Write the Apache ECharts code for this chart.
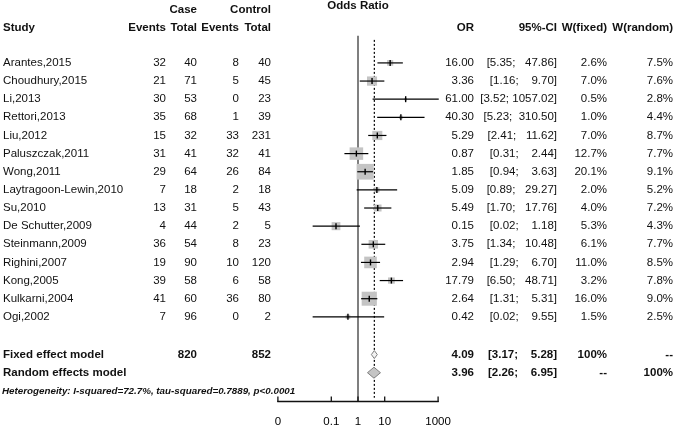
<!DOCTYPE html>
<html><head><meta charset="utf-8">
<script src="https://cdn.jsdelivr.net/npm/echarts@6/dist/echarts.min.js"></script>
<style>html,body{margin:0;padding:0;background:#fff}#c{width:675px;height:428px}</style>
</head><body><div id="c"></div>
<script>
// ---------------- data ----------------
const studies = ["Arantes,2015","Choudhury,2015","Li,2013","Rettori,2013","Liu,2012","Paluszczak,2011","Wong,2011","Laytragoon-Lewin,2010","Su,2010","De Schutter,2009","Steinmann,2009","Righini,2007","Kong,2005","Kulkarni,2004","Ogi,2002"];
const caseEvents   = [32,21,30,35,15,31,29,7,13,4,36,19,39,41,7];
const caseTotal    = [40,71,53,68,32,41,64,18,31,44,54,90,58,60,96];
const ctrlEvents   = [8,5,0,1,33,32,26,2,5,2,8,10,6,36,0];
const ctrlTotal    = [40,45,23,39,231,41,84,18,43,5,23,120,58,80,2];
const oddsRatio    = [16.00,3.36,61.00,40.30,5.29,0.87,1.85,5.09,5.49,0.15,3.75,2.94,17.79,2.64,0.42];
const ciLower      = [5.35,1.16,3.52,5.23,2.41,0.31,0.94,0.89,1.70,0.02,1.34,1.29,6.50,1.31,0.02];
const ciUpper      = [47.86,9.70,1057.02,310.50,11.62,2.44,3.63,29.27,17.76,1.18,10.48,6.70,48.71,5.31,9.55];
const weightFixed  = [2.6,7.0,0.5,1.0,7.0,12.7,20.1,2.0,4.0,5.3,6.1,11.0,3.2,16.0,1.5];
const weightRandom = [7.5,7.6,2.8,4.4,8.7,7.7,9.1,5.2,7.2,4.3,7.7,8.5,7.8,9.0,2.5];

const summaryLabels  = ["Fixed effect model","Random effects model"];
const summaryOR      = [4.09, 3.96];
const summaryLower   = [3.17, 2.26];
const summaryUpper   = [5.28, 6.95];
const summaryWFixed  = ["100%","--"];
const summaryWRandom = ["--","100%"];
const totalCase = 820, totalControl = 852;
const heterogeneity = "Heterogeneity: I-squared=72.7%, tau-squared=0.7889, p<0.0001";

const xTickValues = [0.001, 0.1, 1, 10, 1000];
const xTickLabels = ["0","0.1","1","10","1000"];

// ---------------- layout / style ----------------
const FONT = '"Liberation Sans", Arial, sans-serif';
const col = {study:3, caseEv:166, caseTot:197, ctrlEv:239, ctrlTot:271, or:474, ci:557, wf:607, wr:673};
const rowFixed = 16, rowRandom = 17, rowHet = 18, rowAxis = 18.64;

const f2 = v => v.toFixed(2);
const upLen = Math.max(...ciUpper.concat(summaryUpper).map(v => f2(v).length));
const loLen = Math.max(...ciLower.concat(summaryLower).map(v => f2(v).length));
const ciText = (lo, up) => '[' + ' '.repeat(loLen - f2(lo).length) + f2(lo) + '; ' + ' '.repeat(upLen - f2(up).length) + f2(up) + ']';

// table rows (text) built from the arrays
const tableRows = [];
tableRows.push({row:-3.13, texts:[{x:'center1', t:'Odds Ratio', a:'center', b:true}]});
tableRows.push({row:-2.91, texts:[{x:col.caseTot, t:'Case', a:'right', b:true},{x:col.ctrlTot, t:'Control', a:'right', b:true}]});
tableRows.push({row:-1.91, texts:[
  {x:col.study, t:'Study', a:'left', b:true},
  {x:col.caseEv, t:'Events', a:'right', b:true},{x:col.caseTot, t:'Total', a:'right', b:true},
  {x:col.ctrlEv, t:'Events', a:'right', b:true},{x:col.ctrlTot, t:'Total', a:'right', b:true},
  {x:col.or, t:'OR', a:'right', b:true},{x:col.ci, t:'95%-CI', a:'right', b:true},
  {x:col.wf, t:'W(fixed)', a:'right', b:true},{x:col.wr, t:'W(random)', a:'right', b:true}]});
studies.forEach((s, i) => tableRows.push({row:i, texts:[
  {x:col.study, t:s, a:'left'},
  {x:col.caseEv, t:String(caseEvents[i]), a:'right'},{x:col.caseTot, t:String(caseTotal[i]), a:'right'},
  {x:col.ctrlEv, t:String(ctrlEvents[i]), a:'right'},{x:col.ctrlTot, t:String(ctrlTotal[i]), a:'right'},
  {x:col.or, t:f2(oddsRatio[i]), a:'right'},{x:col.ci, t:ciText(ciLower[i], ciUpper[i]), a:'right'},
  {x:col.wf, t:weightFixed[i].toFixed(1)+'%', a:'right'},{x:col.wr, t:weightRandom[i].toFixed(1)+'%', a:'right'}]}));
[rowFixed, rowRandom].forEach((r, k) => {
  const texts = [{x:col.study, t:summaryLabels[k], a:'left', b:true}];
  if (k === 0) { texts.push({x:col.caseTot, t:String(totalCase), a:'right', b:true}); texts.push({x:col.ctrlTot, t:String(totalControl), a:'right', b:true}); }
  texts.push({x:col.or, t:f2(summaryOR[k]), a:'right', b:true});
  texts.push({x:col.ci, t:ciText(summaryLower[k], summaryUpper[k]), a:'right', b:true});
  texts.push({x:col.wf, t:summaryWFixed[k], a:'right', b:true});
  texts.push({x:col.wr, t:summaryWRandom[k], a:'right', b:true});
  tableRows.push({row:r + 0.08, texts});
});
tableRows.push({row:rowHet + 0.08, texts:[{x:2, t:heterogeneity, a:'left', b:true, it:true, fs:9.8}]});

const chart = echarts.init(document.getElementById('c'), null, {renderer:'canvas'});
const option = {
  animation: false,
  backgroundColor: '#fff',
  grid: {left: 277.9, right: 675 - 438.1, top: 26.64, bottom: 23, containLabel: false},
  xAxis: {
    type: 'log', logBase: 10, min: 0.001, max: 1000,
    axisLine: {show: false},
    axisTick: {show: false},
    axisLabel: {show: true, customValues: xTickValues, margin: 15, fontSize: 11.5, fontFamily: FONT, color: '#000',
      formatter: v => { let best = 0; xTickValues.forEach((t, j) => { if (Math.abs(Math.log10(t) - Math.log10(v)) < Math.abs(Math.log10(xTickValues[best]) - Math.log10(v))) best = j; }); return xTickLabels[best]; }},
    splitLine: {show: false}
  },
  yAxis: {type: 'value', inverse: true, min: -2, max: rowAxis, show: false},
  series: [
    { // x axis line and ticks, placed through the axis scale
      type: 'custom', z: 2, clip: false, silent: true,
      data: [[xTickValues[0], xTickValues[xTickValues.length - 1], rowAxis]],
      renderItem: (params, api) => {
        const a = api.coord([api.value(0), api.value(2)]);
        const b = api.coord([api.value(1), api.value(2)]);
        const y = Math.round(a[1]) + 0.5;
        const children = [{type: 'line', shape: {x1: a[0] - 0.6, y1: y, x2: b[0] + 0.6, y2: y}, style: {stroke: '#111', lineWidth: 1.3}}];
        xTickValues.forEach(t => {
          const p = api.coord([t, api.value(2)]);
          children.push({type: 'line', shape: {x1: p[0], y1: y + 0.6, x2: p[0], y2: y - 5}, style: {stroke: '#111', lineWidth: 1.3}});
        });
        return {type: 'group', children};
      }
    },
    { // reference lines: no effect (solid) and fixed-effect estimate (dashed)
      type: 'custom', z: 1, clip: false,
      data: [[1, -1.5, rowAxis, 0], [summaryOR[0], -1.27, 18.46, 1]],
      renderItem: (params, api) => {
        const a = api.coord([api.value(0), api.value(1)]);
        const b = api.coord([api.value(0), api.value(2)]);
        const dashed = api.value(3) === 1;
        return {type: 'line', shape: {x1: a[0], y1: a[1], x2: b[0], y2: b[1]},
          style: {stroke: dashed ? '#000' : '#555', lineWidth: dashed ? 1.2 : 1.5, lineDash: dashed ? [2, 2] : null}};
      }
    },
    { // study estimates
      type: 'custom', z: 3, clip: false,
      data: oddsRatio.map((o, i) => [o, ciLower[i], ciUpper[i], i, weightFixed[i]]),
      renderItem: (params, api) => {
        const r = api.value(3);
        const e = api.coord([api.value(0), r]);
        const lo = api.coord([api.value(1), r]);
        const hi = api.coord([api.value(2), r]);
        const w = api.value(4);
        const sw = 3.8 * Math.sqrt(w), sh = 3.5 * Math.sqrt(w);
        return {type: 'group', children: [
          {type: 'rect', shape: {x: e[0] - sw / 2, y: e[1] - sh / 2, width: sw, height: sh}, style: {fill: '#c4c4c4'}},
          {type: 'line', shape: {x1: lo[0], y1: lo[1], x2: hi[0], y2: hi[1]}, style: {stroke: '#000', lineWidth: 1.2}},
          {type: 'line', shape: {x1: e[0], y1: e[1] - 3, x2: e[0], y2: e[1] + 3}, style: {stroke: '#000', lineWidth: 1.4}}
        ]};
      }
    },
    { // summary diamonds
      type: 'custom', z: 3, clip: false,
      data: summaryOR.map((o, k) => [o, summaryLower[k], summaryUpper[k], (k === 0 ? rowFixed : rowRandom) + 0.08, k]),
      renderItem: (params, api) => {
        const r = api.value(3);
        const e = api.coord([api.value(0), r]);
        const lo = api.coord([api.value(1), r]);
        const hi = api.coord([api.value(2), r]);
        const fixed = api.value(4) === 0;
        const h = fixed ? 8 : 11;
        return {type: 'polygon', shape: {points: [[lo[0], e[1]], [e[0], e[1] - h / 2], [hi[0], e[1]], [e[0], e[1] + h / 2]]},
          style: {fill: fixed ? '#f2f2f2' : '#c4c4c4', stroke: '#808080', lineWidth: 1}};
      }
    },
    { // table text
      type: 'custom', z: 5, clip: false, silent: true,
      data: tableRows.map(r => [1, r.row]),
      renderItem: (params, api) => {
        const spec = tableRows[params.dataIndex];
        const p = api.coord([1, api.value(1)]);
        return {type: 'group', children: spec.texts.map(t => ({
          type: 'text', x: t.x === 'center1' ? p[0] : t.x, y: p[1],
          style: {text: t.t, align: t.a, verticalAlign: 'middle', fill: '#111',
            font: (t.it ? 'italic ' : '') + (t.b ? 'bold ' : '') + (t.fs || 11.5) + 'px ' + FONT}
        }))};
      }
    }
  ]
};
chart.setOption(option);
</script></body></html>
